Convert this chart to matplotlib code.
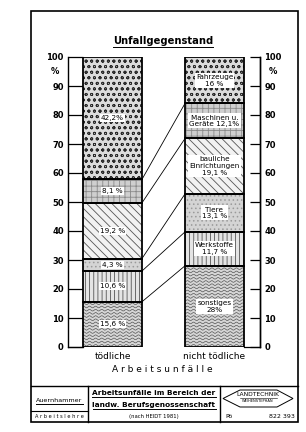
import numpy as np
import matplotlib.pyplot as plt
from matplotlib.patches import Rectangle, Polygon

plt.rcParams['font.family'] = ['DejaVu Sans']
plt.rcParams['hatch.linewidth'] = 0.6

# Daten: Unfallgegenstand, von unten nach oben
gruppen = ['tödliche', 'nicht tödliche']
toedlich = [15.6, 10.6, 4.3, 19.2, 8.1, 42.2]
nicht_toedlich = [28.0, 11.7, 13.1, 19.1, 12.1, 16.0]
labels_links = ['15,6 %', '10,6 %', '4,3 %', '19,2 %', '8,1 %', '42,2%']
labels_rechts = ['sonstiges\n28%', 'Werkstoffe\n11,7 %', 'Tiere\n13,1 %',
                 'bauliche\nEinrichtungen\n19,1 %', 'Maschinen u.\nGeräte 12,1%',
                 'Fahrzeuge\n16 %']
yticks = list(range(0, 101, 10))

# Muster je Kategorie: (Fläche, Schraffur, Schraffurfarbe)
muster = [('#d6d6d6', None, '#555555'),        # sonstiges (Wellen)
          ('#e4e4e4', '||||', '#555555'),      # Werkstoffe
          ('#d4d4d4', '....', '#9a9a9a'),      # Tiere
          ('#f2f2f2', '\\\\\\\\', '#555555'),  # bauliche Einrichtungen
          ('#cfcfcf', '+++', '#8a8a8a'),       # Maschinen
          ('#dcdcdc', 'ooo', '#2a2a2a')]       # Fahrzeuge

fig = plt.figure(figsize=(3.06, 4.32), dpi=100)

# Hintergrund-Achse in Pixeln für Rahmen und Schriftfeld
bg = fig.add_axes([0, 0, 1, 1])
bg.set_xlim(0, 306)
bg.set_ylim(432, 0)
bg.axis('off')

ax = fig.add_axes([68 / 306, 85 / 432, 192 / 306, 290 / 432])
ax.set_facecolor('none')
w = 0.578
ax.set_xlim(-0.436, 1.446)
ax.set_ylim(0, 100)

for xpos, werte, labels in [(0, toedlich, labels_links), (1, nicht_toedlich, labels_rechts)]:
    unten = np.concatenate([[0], np.cumsum(werte)[:-1]])
    for i, (h, b) in enumerate(zip(werte, unten)):
        fc, hatch, hc = muster[i]
        ax.bar(xpos, h, bottom=b, width=w, color=fc, hatch=hatch,
               edgecolor=hc, linewidth=0, zorder=2)
        if hatch is None:
            # Wellenmuster für "sonstiges"
            rect = Rectangle((xpos - w / 2, b), w, h, transform=ax.transData)
            xx = np.linspace(xpos - w / 2, xpos + w / 2, 200)
            for yy in np.arange(b + 0.6, b + h, 1.1):
                ln, = ax.plot(xx, yy + 0.28 * np.sin(xx * 2 * np.pi / 0.06),
                              color=hc, lw=0.5, zorder=3)
                ln.set_clip_path(rect)
        ax.bar(xpos, h, bottom=b, width=w, fill=False, edgecolor='black',
               linewidth=1.3, zorder=4)
        ax.text(xpos, b + h / 2, labels[i], ha='center', va='center',
                fontsize=5.2, linespacing=1.15, zorder=5,
                bbox=dict(facecolor='white', edgecolor='none', pad=0.8))

# Verbindungslinien zwischen den Balken
gl = np.cumsum(toedlich)[:-1]
gr = np.cumsum(nicht_toedlich)[:-1]
for a, b in zip(gl, gr):
    ax.plot([w / 2, 1 - w / 2], [a, b], color='black', lw=0.6, zorder=1)

# Achsen
for s in ['top', 'bottom']:
    ax.spines[s].set_visible(False)
ax.spines['left'].set_linewidth(1.0)
ax.spines['right'].set_linewidth(1.0)
ax.set_xticks([])
ax.set_yticks(yticks)
ax.tick_params(axis='y', which='both', direction='in', length=11, width=0.9,
               labelsize=6, pad=3, left=True, right=False)
for lab in ax.get_yticklabels():
    lab.set_fontweight('bold')
ax2 = ax.twinx()
ax2.set_ylim(0, 100)
ax2.set_yticks(yticks)
ax2.set_xticks([])
for s in ['top', 'bottom', 'left']:
    ax2.spines[s].set_visible(False)
ax2.spines['right'].set_linewidth(1.0)
ax2.tick_params(axis='y', direction='in', length=7, width=0.9, labelsize=6, pad=3)
for lab in ax2.get_yticklabels():
    lab.set_fontweight('bold')
# Grundlinie bei 0
ax.plot([-0.436, -w / 2], [0, 0], color='black', lw=0.9, clip_on=False)
ax.plot([1 + w / 2, 1.446], [0, 0], color='black', lw=0.9, clip_on=False)
ax.text(-0.56, 95, '%', ha='center', va='center', fontsize=6, fontweight='bold')
ax.text(1.575, 95, '%', ha='center', va='center', fontsize=6, fontweight='bold')

for xpos, g in enumerate(gruppen):
    ax.text(xpos, -1.8, g, ha='center', va='top', fontsize=6.5)
bg.text(162, 369, 'A r b e i t s u n f ä l l e', ha='center', va='center', fontsize=6.5)

# Rahmen und Schriftfeld
bg.add_patch(Rectangle((31, 11), 267, 411, fill=False, edgecolor='black', lw=1.2))
bg.plot([31, 298], [386, 386], color='black', lw=1.0)
bg.plot([88, 88], [386, 422], color='black', lw=1.0)
bg.plot([220, 220], [386, 422], color='black', lw=1.0)
bg.plot([31, 88], [411, 411], color='black', lw=0.8)

texte = []
texte.append(bg.text(163, 41, 'Unfallgegenstand', ha='center', va='center',
                     fontsize=7.2, fontweight='bold'))
texte.append(bg.text(59.5, 400, 'Auernhammer', ha='center', va='center', fontsize=4.6))
bg.text(59.5, 416.5, 'A r b e i t s l e h r e', ha='center', va='center', fontsize=3.6)
texte.append(bg.text(154, 393, 'Arbeitsunfälle im Bereich der', ha='center', va='center',
                     fontsize=5.3, fontweight='bold'))
texte.append(bg.text(154, 405, 'landw. Berufsgenossenschaft', ha='center', va='center',
                     fontsize=5.3, fontweight='bold'))
bg.text(154, 416.5, '(nach HEIDT 1981)', ha='center', va='center', fontsize=3.8)

bg.add_patch(Polygon([(223, 398.5), (240, 390), (277, 390), (293, 398.5),
                      (277, 407), (240, 407)], closed=True, fill=False,
                     edgecolor='black', lw=0.7))
bg.text(258, 394.5, 'LANDTECHNIK', ha='center', va='center', fontsize=4.3)
bg.text(258, 401, 'WEIHENSTEPHAN', ha='center', va='center', fontsize=2.6)
bg.plot([240, 277], [398, 398], color='black', lw=0.4)
bg.text(225, 416, 'Pö', ha='left', va='center', fontsize=4.5)
bg.text(295, 416, '822 393', ha='right', va='center', fontsize=4.5)

# Unterstreichungen
fig.canvas.draw()
r = fig.canvas.get_renderer()
for t in texte:
    bb = t.get_window_extent(renderer=r)
    y = 432 - bb.y0 + 1
    bg.plot([bb.x0, bb.x1], [y, y], color='black', lw=0.7)

fig.savefig('out.png', dpi=100)
